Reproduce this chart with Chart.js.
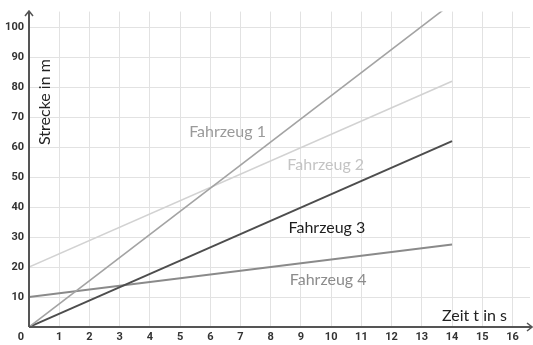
<!DOCTYPE html>
<html>
<head>
<meta charset="utf-8">
<script src="https://cdn.jsdelivr.net/npm/chart.js@4/dist/chart.umd.min.js"></script>
<style>
  html, body { margin: 0; padding: 0; background: #fff; }
  #wrap { width: 533px; height: 345px; }
</style>
</head>
<body>
<div id="wrap"><canvas id="c"></canvas></div>
<script>
// Zeit-Weg-Diagramm: vier Fahrzeuge
const zeit = [0, 14];
const fahrzeug1 = [0, 108];
const fahrzeug2 = [20, 82];
const fahrzeug3 = [0, 62];
const fahrzeug4 = [10, 27.5];
const namen = ['Fahrzeug 1', 'Fahrzeug 2', 'Fahrzeug 3', 'Fahrzeug 4'];
const farben = ['#a3a3a3', '#d2d2d2', '#4d4d4d', '#8a8a8a'];
const textFarben = ['#9a9a9a', '#c4c4c4', '#1e1e1e', '#8c8c8c'];
// Beschriftungen (Mitte) in Datenkoordinaten
const labelPos = [[6.57, 65], [9.82, 54.1], [9.86, 33.2], [9.9, 15.7]];
const xTicks = [0, 1, 2, 3, 4, 5, 6, 7, 8, 9, 10, 11, 12, 13, 14, 15, 16];
const yTicks = [0, 10, 20, 30, 40, 50, 60, 70, 80, 90, 100];

const serien = [fahrzeug1, fahrzeug2, fahrzeug3, fahrzeug4];
const breiten = [1.6, 1.6, 2, 2];

const extras = {
  id: 'extras',
  afterDraw(chart) {
    const { ctx, scales: { x, y }, chartArea: a } = chart;
    ctx.save();
    // Achsen mit Pfeilen
    ctx.strokeStyle = '#555';
    ctx.lineWidth = 2;
    ctx.beginPath();
    ctx.moveTo(a.left, a.bottom);
    ctx.lineTo(a.left, 12);
    ctx.moveTo(a.left, a.bottom);
    ctx.lineTo(531, a.bottom);
    ctx.stroke();
    ctx.lineWidth = 1.5;
    ctx.beginPath();
    ctx.moveTo(a.left - 4, 16); ctx.lineTo(a.left, 11); ctx.lineTo(a.left + 4, 16);
    ctx.moveTo(527, a.bottom - 4); ctx.lineTo(532, a.bottom); ctx.lineTo(527, a.bottom + 4);
    ctx.stroke();

    // Null am Ursprung
    ctx.fillStyle = '#333';
    ctx.font = 'bold 11px Roboto';
    ctx.textAlign = 'center';
    ctx.textBaseline = 'middle';
    ctx.fillText('0', 21, 337);

    // Fahrzeug-Beschriftungen
    ctx.font = '16px Lato';
    namen.forEach((n, i) => {
      ctx.fillStyle = textFarben[i];
      ctx.fillText(n, x.getPixelForValue(labelPos[i][0]), y.getPixelForValue(labelPos[i][1]));
    });

    // Achsentitel
    ctx.fillStyle = '#222';
    ctx.font = '16px Lato';
    ctx.textAlign = 'left';
    ctx.fillText('Zeit t in s', 442, 316);
    ctx.translate(45, 145);
    ctx.rotate(-Math.PI / 2);
    ctx.fillText('Strecke in m', 0, 0);
    ctx.restore();
  }
};

new Chart(document.getElementById('c'), {
  type: 'line',
  data: {
    datasets: serien.map((s, i) => ({
      label: namen[i],
      data: zeit.map((t, k) => ({ x: t, y: s[k] })),
      borderColor: farben[i],
      borderWidth: breiten[i],
      pointRadius: 0,
      tension: 0
    }))
  },
  options: {
    responsive: true,
    maintainAspectRatio: false,
    animation: false,
    layout: { padding: { top: 10, right: 3, left: 0, bottom: 0 } },
    plugins: { legend: { display: false }, tooltip: { enabled: false } },
    scales: {
      x: {
        type: 'linear',
        min: 0,
        max: 16.58,
        afterBuildTicks: s => { s.ticks = xTicks.map(v => ({ value: v })); },
        afterFit: s => { s.height = 18; },
        border: { display: false },
        grid: { color: '#e2e2e2', lineWidth: 1, drawTicks: false },
        ticks: {
          color: '#333',
          font: { family: 'Roboto', size: 11, weight: 'bold' },
          padding: 4,
          maxRotation: 0,
          callback: v => (v === 0 ? '' : v)
        }
      },
      y: {
        min: 0,
        max: 105.2,
        afterBuildTicks: s => { s.ticks = yTicks.map(v => ({ value: v })); },
        afterFit: s => { s.width = 29; },
        border: { display: false },
        grid: { color: '#e2e2e2', lineWidth: 1, drawTicks: false },
        ticks: {
          color: '#333',
          font: { family: 'Roboto', size: 11, weight: 'bold' },
          padding: 5,
          callback: v => (v === 0 ? '' : v)
        }
      }
    }
  },
  plugins: [extras]
});
</script>
</body>
</html>
